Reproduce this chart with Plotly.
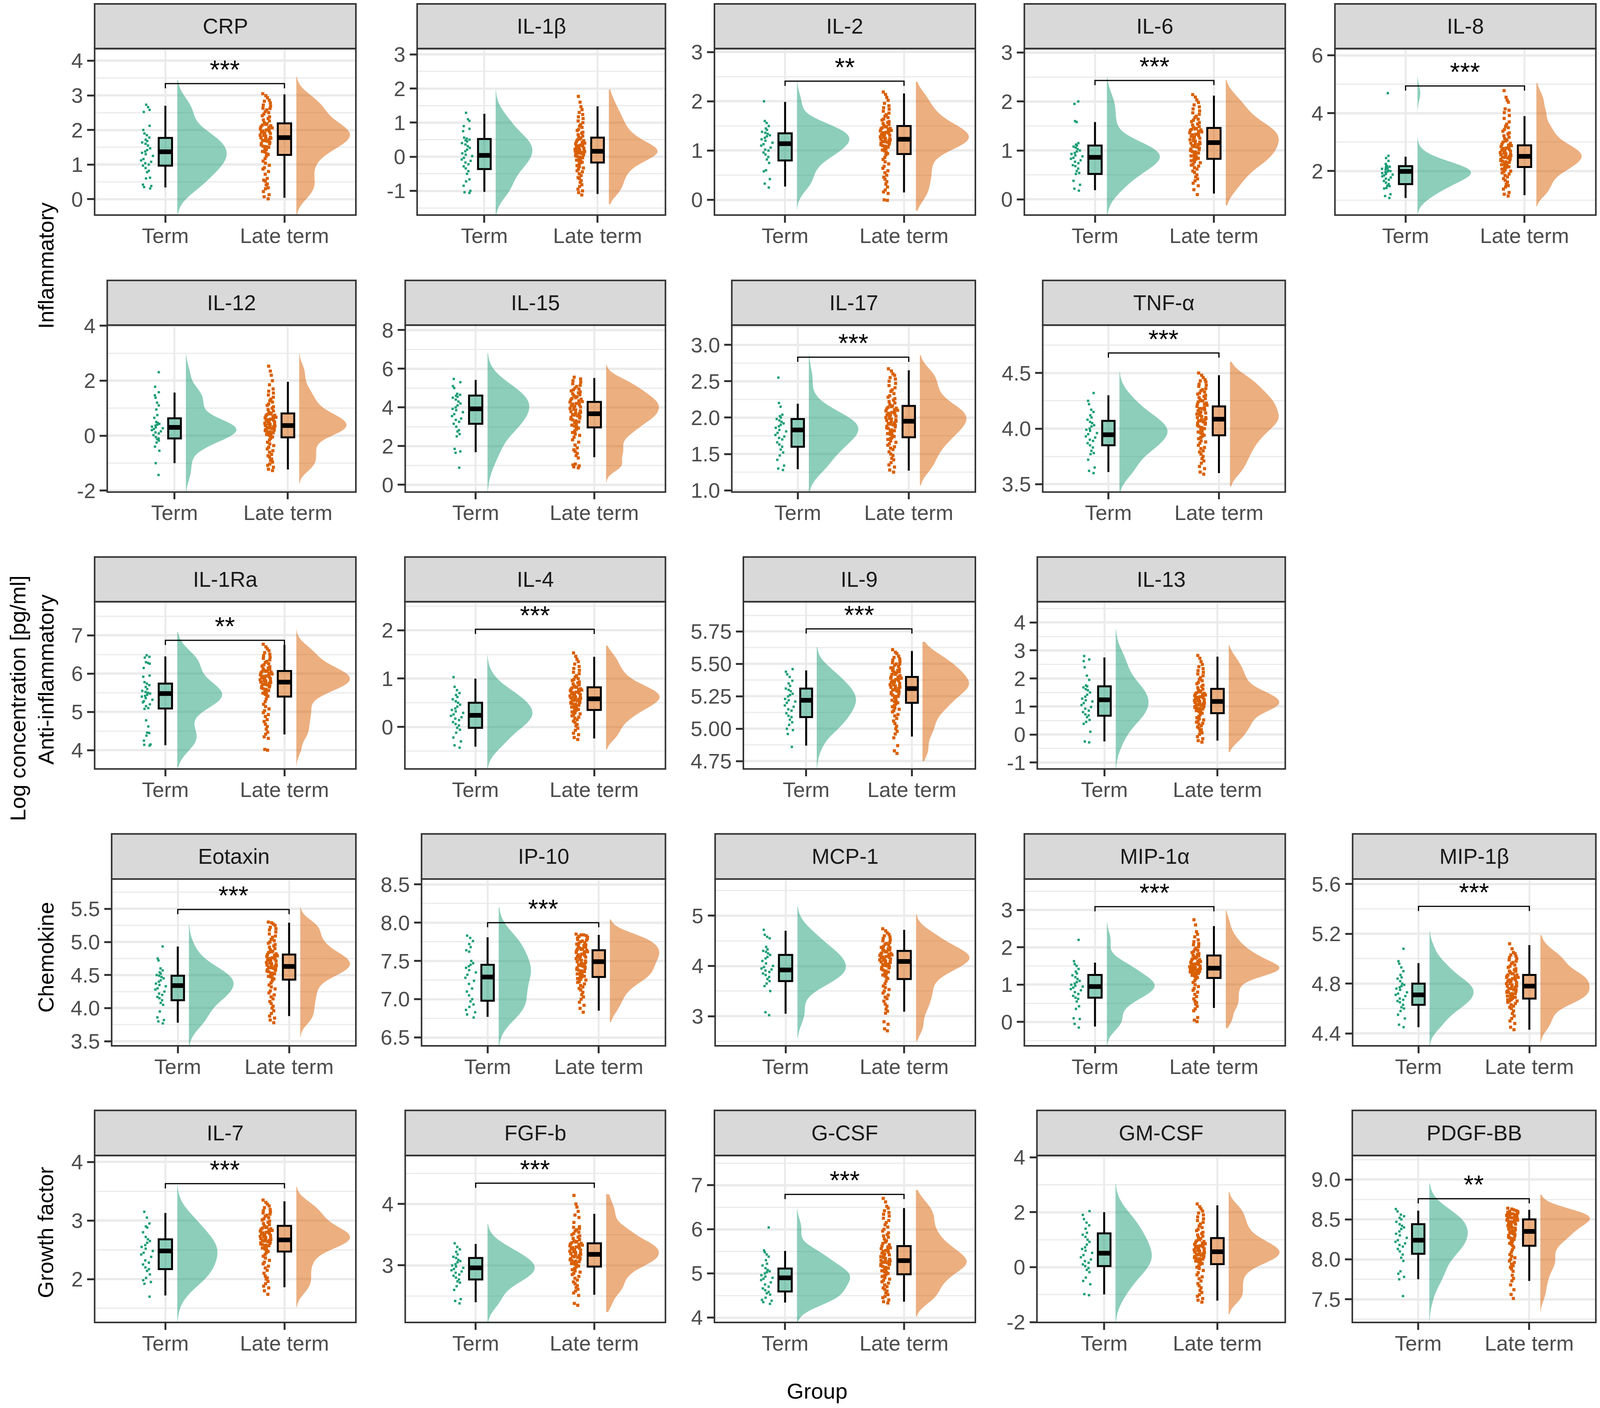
import plotly.graph_objects as go

W, H = 4685, 3604

panel_names = ["CRP", "IL-1β", "IL-2", "IL-6", "IL-8",
               "IL-12", "IL-15", "IL-17", "TNF-α",
               "IL-1Ra", "IL-4", "IL-9", "IL-13",
               "Eotaxin", "IP-10", "MCP-1", "MIP-1α", "MIP-1β",
               "IL-7", "FGF-b", "G-CSF", "GM-CSF", "PDGF-BB"]
group_labels = ["Term", "Late term"]
row_titles = ["Inflammatory", "Anti-inflammatory", "Chemokine", "Growth factor"]

y_tick_labels = [["0", "1", "2", "3", "4"], ["-1", "0", "1", "2", "3"], ["0", "1", "2", "3"], ["0", "1", "2", "3"], ["2", "4", "6"],
                 ["-2", "0", "2", "4"], ["0", "2", "4", "6", "8"], ["1.0", "1.5", "2.0", "2.5", "3.0"], ["3.5", "4.0", "4.5"],
                 ["4", "5", "6", "7"], ["0", "1", "2"], ["4.75", "5.00", "5.25", "5.50", "5.75"], ["-1", "0", "1", "2", "3", "4"],
                 ["3.5", "4.0", "4.5", "5.0", "5.5"], ["6.5", "7.0", "7.5", "8.0", "8.5"], ["3", "4", "5"], ["0", "1", "2", "3"], ["4.4", "4.8", "5.2", "5.6"],
                 ["2", "3", "4"], ["3", "4"], ["4", "5", "6", "7"], ["-2", "0", "2", "4"], ["7.5", "8.0", "8.5", "9.0"]]
y_lo = [-.46, -1.71, -.31, -.32, .48, -2.05, -.38, .977, 3.43, 3.51, -.87, 4.69, -1.23, 3.43, 6.39, 2.41, -.64, 4.30, 1.26, 2.07, 3.89, -2.01, 7.21]
y_hi = [4.35, 3.17, 3.07, 3.08, 6.23, 4.02, 8.25, 3.27, 4.93, 7.88, 2.59, 5.98, 4.74, 5.95, 8.57, 5.73, 3.83, 5.64, 4.11, 4.79, 7.67, 4.06, 9.30]

sig_y = [3.34, None, 2.41, 2.43, 4.94, None, None, 2.83, 4.68, 6.87, 2.02, 5.77, None, 5.49, 8.0, None, 3.09, 5.42, 3.63, 4.34, 6.79, None, 8.76]
sig_text = ["***", "", "**", "***", "***", "", "", "***", "***", "**", "***", "***", "", "***", "***", "", "***", "***", "***", "***", "***", "", "**"]

term_lo = [.34, -1.03, .27, .19, 1.07, -1.0, 1.68, 1.29, 3.61, 4.13, -.41, 4.87, -.25, 3.78, 6.77, 3.05, -.12, 4.45, 1.72, 2.40, 4.34, -.99, 7.75]
term_q1 = [.97, -.36, .80, .52, 1.55, -.10, 3.15, 1.60, 3.85, 5.09, -.02, 5.09, .67, 4.12, 6.98, 3.70, .65, 4.63, 2.17, 2.77, 4.59, .04, 8.07]
term_med = [1.37, .04, 1.14, .86, 1.99, .30, 3.92, 1.83, 3.945, 5.48, .24, 5.22, 1.24, 4.34, 7.29, 3.92, .95, 4.71, 2.48, 2.96, 4.90, .51, 8.24]
term_q3 = [1.77, .52, 1.35, 1.10, 2.17, .63, 4.61, 1.98, 4.07, 5.74, .50, 5.31, 1.72, 4.49, 7.45, 4.22, 1.26, 4.80, 2.68, 3.12, 5.11, 1.23, 8.44]
term_hi = [2.70, 1.26, 1.99, 1.58, 2.5, 1.57, 5.42, 2.19, 4.30, 6.45, 1.0, 5.45, 2.75, 4.93, 7.81, 4.70, 1.59, 4.965, 3.13, 3.35, 5.51, 2.0, 8.61]
term_tip_lo = [-.41, -1.75, -.20, -.35, .53, -2.1, -.5, .9, 3.38, 3.55, -.85, 4.68, -1.25, 3.42, 6.35, 2.57, -.65, 4.3, 1.2, 2.02, 3.87, -2.05, 7.2]
term_tip_hi = [3.45, 1.96, 2.40, 2.50, 5.26, 2.95, 6.80, 2.87, 4.51, 7.09, 1.48, 5.63, 3.75, 5.27, 8.20, 5.18, 2.67, 5.22, 3.60, 3.68, 6.46, 3.03, 8.95]
term_peak = [.415, .324, .44, .445, .45, .445, .352, .445, .435, .375, .38, .371, .29, .40, .29, .408, .40, .397, .337, .398, .446, .32, .346]
term_bw = [.33, .30, .18, .23, .25, .29, .60, .145, .086, .28, .20, .077, .43, .155, .17, .21, .21, .064, .20, .145, .19, .45, .145]

late_lo = [.04, -1.09, .15, .12, 1.17, -1.23, 1.42, 1.27, 3.60, 4.41, -.24, 4.94, -.22, 3.88, 6.85, 3.09, .375, 4.43, 1.86, 2.52, 4.36, -1.22, 7.73]
late_q1 = [1.28, -.17, .93, .83, 2.14, -.06, 2.96, 1.73, 3.94, 5.40, .35, 5.20, .76, 4.43, 7.29, 3.74, 1.18, 4.68, 2.47, 2.98, 4.98, .11, 8.17]
late_med = [1.78, .16, 1.23, 1.16, 2.51, .37, 3.67, 1.95, 4.085, 5.78, .58, 5.31, 1.18, 4.63, 7.49, 4.09, 1.44, 4.78, 2.67, 3.18, 5.29, .56, 8.35]
late_q3 = [2.19, .56, 1.50, 1.46, 2.89, .81, 4.28, 2.16, 4.20, 6.07, .82, 5.40, 1.63, 4.81, 7.64, 4.30, 1.78, 4.87, 2.91, 3.36, 5.62, 1.06, 8.50]
late_hi = [3.03, 1.48, 2.16, 2.12, 3.90, 1.96, 5.52, 2.65, 4.48, 6.75, 1.45, 5.60, 2.78, 5.29, 7.84, 4.72, 2.57, 5.11, 3.33, 3.84, 6.48, 2.25, 8.62]
late_tip_lo = [-.44, -1.39, -.22, -.12, .78, -1.74, .09, 1.07, 3.48, 3.57, -.47, 4.75, -.63, 3.56, 6.70, 2.51, -.16, 4.33, 1.52, 2.24, 4.03, -1.71, 7.34]
late_tip_hi = [3.54, 1.97, 2.40, 2.44, 5.05, 2.98, 6.21, 2.86, 4.60, 7.15, 1.68, 5.67, 3.18, 5.52, 8.04, 5.02, 2.98, 5.19, 3.58, 4.16, 6.89, 2.73, 8.81]
late_peak = [.45, .43, .445, .445, .38, .417, .444, .42, .44, .45, .45, .44, .446, .446, .444, .45, .45, .443, .45, .444, .426, .449, .445]
late_bw = [.24, .19, .15, .17, .19, .22, .30, .11, .067, .17, .12, .052, .22, .10, .09, .145, .155, .05, .115, .10, .165, .245, .085]

# individual samples
term_crp = [.31,.35,.38,.42,.6,.62,.78,.82,.9,.97,1.0,1.04,1.08,1.12,1.16,1.25,1.3,1.34,1.38,1.42,1.47,1.55,1.6,1.64,1.68,1.72,1.78,1.85,1.9,2.0,2.12,2.52,2.58,2.66,2.73]
late_crp = [.01,.07,.13,.22,.3,.33,.41,.44,.52,.55,.6,.72,.8,.87,.91,.98,1.04,1.1,1.17,1.24,1.29,1.31,1.36,1.38,1.43,1.45,1.5,1.52,1.53,1.57,1.6,1.61,1.64,1.67,1.69,1.7,1.73,1.74,1.76,1.77,1.79,1.82,1.84,1.85,1.88,1.9,1.91,1.94,1.96,1.97,2.0,2.01,2.03,2.06,2.08,2.09,2.12,2.14,2.16,2.18,2.21,2.26,2.29,2.33,2.38,2.41,2.46,2.5,2.53,2.58,2.62,2.63,2.69,2.72,2.78,2.83,2.86,2.93,2.99,3.05]
term_il1b = [-1.06,-1.04,-1.0,-.85,-.72,-.66,-.5,-.42,-.34,-.28,-.22,-.17,-.12,-.08,-.03,.02,.06,.1,.16,.21,.26,.31,.36,.4,.45,.48,.5,.53,.56,.75,.82,.9,1.05,1.1,1.29]
late_il1b = [-1.12,-1.05,-1.0,-.95,-.87,-.82,-.75,-.7,-.64,-.61,-.55,-.5,-.44,-.41,-.36,-.33,-.29,-.26,-.22,-.18,-.16,-.14,-.12,-.1,-.07,-.05,-.03,-.01,.01,.03,.05,.06,.08,.1,.11,.12,.13,.14,.15,.16,.17,.19,.2,.22,.24,.25,.27,.29,.31,.32,.34,.36,.38,.4,.42,.44,.47,.49,.52,.55,.58,.61,.65,.69,.72,.77,.8,.86,.9,.94,1.0,1.05,1.12,1.17,1.24,1.3,1.38,1.47,1.6,1.77]
term_il2 = [.25,.33,.42,.58,.6,.75,.82,.87,.92,.96,1.0,1.02,1.06,1.1,1.13,1.16,1.2,1.23,1.26,1.29,1.31,1.34,1.36,1.38,1.42,1.45,1.5,1.56,1.6,2.0]
late_il2 = [-.01,0.,.13,.16,.2,.26,.32,.37,.42,.46,.5,.55,.59,.64,.68,.73,.77,.82,.86,.91,.94,.96,.99,1.01,1.03,1.05,1.07,1.09,1.1,1.12,1.13,1.15,1.16,1.17,1.18,1.19,1.2,1.21,1.22,1.23,1.24,1.25,1.27,1.28,1.3,1.31,1.32,1.33,1.35,1.36,1.37,1.38,1.4,1.41,1.43,1.44,1.45,1.46,1.48,1.49,1.51,1.53,1.55,1.57,1.59,1.62,1.64,1.67,1.7,1.73,1.76,1.8,1.84,1.87,1.91,1.96,2.02,2.08,2.14,2.19]
term_il6 = [.18,.22,.3,.38,.52,.54,.58,.63,.68,.7,.74,.77,.8,.83,.85,.88,.9,.93,.95,.98,1.0,1.03,1.06,1.08,1.1,1.12,1.15,1.58,1.6,1.95,2.0]
late_il6 = [.1,.2,.28,.33,.38,.42,.46,.5,.55,.58,.62,.65,.68,.7,.72,.75,.77,.79,.81,.82,.84,.86,.87,.89,.91,.93,.95,.97,.98,1.0,1.02,1.03,1.05,1.07,1.08,1.1,1.12,1.13,1.14,1.15,1.17,1.19,1.2,1.22,1.24,1.25,1.27,1.29,1.3,1.32,1.33,1.35,1.36,1.38,1.39,1.41,1.42,1.43,1.44,1.45,1.47,1.49,1.52,1.54,1.57,1.59,1.62,1.64,1.67,1.7,1.74,1.77,1.81,1.85,1.89,1.93,1.98,2.03,2.09,2.14]
term_il8 = [1.07,1.14,1.2,1.4,1.42,1.48,1.5,1.55,1.6,1.66,1.7,1.74,1.78,1.82,1.85,1.88,1.9,1.93,1.96,1.98,2.0,2.02,2.05,2.08,2.1,2.12,2.15,2.17,2.2,2.25,2.35,2.45,2.53,4.69]
late_il8 = [1.14,1.2,1.26,1.38,1.45,1.5,1.55,1.62,1.68,1.74,1.8,1.85,1.9,1.94,1.98,2.0,2.04,2.07,2.1,2.13,2.15,2.18,2.2,2.22,2.25,2.27,2.3,2.32,2.34,2.37,2.39,2.41,2.43,2.45,2.47,2.49,2.5,2.52,2.54,2.56,2.58,2.6,2.62,2.64,2.66,2.69,2.71,2.73,2.75,2.78,2.8,2.83,2.85,2.88,2.9,2.93,2.96,3.0,3.04,3.08,3.12,3.17,3.22,3.28,3.32,3.38,3.44,3.5,3.55,3.62,3.7,3.82,3.92,4.02,4.1,4.15,4.38,4.45,4.55,4.78]
term_il12 = [-1.43,-1.0,-.55,-.4,-.25,-.18,-.13,-.1,-.05,.02,.08,.12,.16,.2,.24,.27,.3,.33,.37,.4,.43,.46,.5,.65,.75,.95,1.1,1.2,1.38,1.47,1.58,1.78,2.31]
late_il12 = [-1.27,-1.22,-1.15,-1.08,-1.03,-.96,-.9,-.85,-.78,-.73,-.68,-.6,-.55,-.48,-.42,-.36,-.3,-.24,-.16,-.1,-.05,-.02,.01,.04,.06,.09,.11,.14,.16,.18,.2,.22,.24,.26,.28,.3,.32,.34,.35,.37,.39,.41,.43,.45,.47,.5,.52,.54,.56,.58,.6,.62,.65,.67,.7,.72,.74,.77,.79,.82,.86,.9,.95,1.0,1.05,1.1,1.15,1.22,1.27,1.33,1.4,1.48,1.55,1.62,1.7,1.85,2.0,2.2,2.35,2.53]
term_il15 = [.88,1.65,1.72,1.85,2.5,2.62,2.75,2.82,3.0,3.15,3.25,3.35,3.42,3.55,3.65,3.75,3.85,3.92,4.0,4.1,4.2,4.3,4.4,4.5,4.55,4.6,4.65,4.7,5.0,5.1,5.3,5.47]
late_il15 = [.87,.92,.97,1.02,1.07,1.38,1.5,1.62,1.72,1.8,1.9,2.05,2.2,2.32,2.45,2.55,2.62,2.7,2.78,2.85,2.92,2.98,3.02,3.08,3.14,3.2,3.25,3.3,3.35,3.4,3.44,3.48,3.52,3.56,3.6,3.63,3.67,3.7,3.74,3.78,3.82,3.86,3.9,3.94,3.98,4.02,4.05,4.09,4.13,4.17,4.2,4.24,4.27,4.3,4.34,4.38,4.42,4.46,4.5,4.55,4.6,4.65,4.7,4.75,4.8,4.85,4.9,4.95,5.0,5.08,5.14,5.22,5.3,5.38,5.47,5.56]
term_il17 = [1.28,1.3,1.34,1.42,1.48,1.52,1.56,1.6,1.63,1.66,1.7,1.72,1.74,1.76,1.79,1.81,1.83,1.86,1.88,1.9,1.92,1.94,1.96,1.98,2.0,2.02,2.04,2.15,2.2,2.55]
late_il17 = [1.25,1.28,1.32,1.35,1.38,1.42,1.44,1.48,1.5,1.53,1.56,1.58,1.6,1.62,1.64,1.66,1.68,1.7,1.71,1.72,1.74,1.75,1.77,1.78,1.79,1.81,1.82,1.83,1.85,1.86,1.87,1.88,1.89,1.9,1.91,1.92,1.93,1.94,1.95,1.96,1.97,1.98,1.99,2.0,2.01,2.02,2.03,2.04,2.05,2.06,2.07,2.08,2.09,2.1,2.11,2.12,2.13,2.14,2.15,2.16,2.18,2.2,2.22,2.24,2.26,2.28,2.3,2.33,2.36,2.38,2.41,2.44,2.47,2.5,2.53,2.55,2.58,2.6,2.64,2.67]
term_tnf = [3.6,3.62,3.65,3.72,3.77,3.78,3.8,3.83,3.85,3.87,3.89,3.9,3.92,3.93,3.95,3.96,3.98,3.99,4.0,4.02,4.03,4.05,4.06,4.08,4.1,4.12,4.15,4.17,4.22,4.25,4.32]
late_tnf = [3.59,3.61,3.64,3.66,3.69,3.71,3.73,3.75,3.77,3.79,3.8,3.82,3.83,3.85,3.87,3.88,3.89,3.91,3.92,3.93,3.94,3.95,3.96,3.97,3.98,3.99,4.0,4.01,4.02,4.03,4.04,4.05,4.05,4.06,4.07,4.07,4.08,4.08,4.09,4.1,4.1,4.11,4.12,4.13,4.14,4.14,4.15,4.16,4.17,4.18,4.18,4.19,4.2,4.21,4.22,4.22,4.23,4.24,4.25,4.25,4.26,4.27,4.28,4.29,4.3,4.31,4.32,4.33,4.34,4.35,4.36,4.38,4.39,4.4,4.42,4.43,4.44,4.46,4.48,4.5]
term_il1ra = [4.12,4.14,4.15,4.25,4.38,4.45,4.46,4.62,4.78,5.08,5.1,5.15,5.2,5.25,5.28,5.32,5.36,5.4,5.42,5.45,5.48,5.5,5.52,5.55,5.6,5.65,5.7,5.74,5.78,5.92,5.95,6.15,6.26,6.28,6.3,6.42,6.44,6.48]
late_il1ra = [4.0,4.02,4.31,4.35,4.42,4.47,4.55,4.62,4.68,4.75,4.8,4.88,4.93,4.98,5.03,5.08,5.14,5.2,5.27,5.34,5.41,5.43,5.46,5.49,5.51,5.54,5.56,5.59,5.61,5.63,5.65,5.67,5.69,5.7,5.72,5.73,5.75,5.76,5.77,5.78,5.79,5.81,5.82,5.84,5.85,5.87,5.88,5.9,5.91,5.93,5.94,5.96,5.97,5.99,6.01,6.02,6.04,6.05,6.06,6.07,6.09,6.11,6.13,6.15,6.18,6.2,6.23,6.26,6.29,6.32,6.36,6.4,6.43,6.47,6.51,6.55,6.6,6.65,6.7,6.77]
term_il4 = [-.43,-.38,-.3,-.22,-.12,-.06,-.02,.03,.06,.1,.14,.17,.2,.23,.26,.29,.32,.35,.38,.42,.46,.5,.53,.57,.62,.66,.7,.76,.83,1.03]
late_il4 = [-.26,-.22,-.16,-.13,-.07,-.03,.02,.05,.09,.12,.15,.18,.2,.23,.25,.27,.29,.31,.33,.34,.36,.38,.39,.41,.42,.44,.45,.47,.48,.49,.5,.51,.52,.54,.55,.56,.57,.58,.59,.6,.61,.62,.63,.64,.66,.67,.68,.69,.7,.71,.72,.73,.75,.76,.77,.78,.79,.81,.82,.83,.85,.87,.89,.91,.93,.96,.98,1.0,1.03,1.06,1.1,1.13,1.17,1.21,1.25,1.3,1.35,1.4,1.46,1.53]
term_il9 = [4.86,4.96,4.99,5.0,5.03,5.05,5.07,5.09,5.1,5.12,5.14,5.15,5.17,5.18,5.2,5.21,5.22,5.23,5.25,5.26,5.27,5.29,5.3,5.31,5.33,5.35,5.37,5.4,5.42,5.44,5.46]
late_il9 = [4.81,4.83,4.87,4.93,4.96,4.98,5.0,5.02,5.04,5.06,5.08,5.1,5.11,5.13,5.14,5.15,5.16,5.17,5.18,5.19,5.2,5.21,5.21,5.22,5.23,5.24,5.25,5.25,5.26,5.27,5.27,5.28,5.29,5.29,5.3,5.3,5.31,5.31,5.32,5.32,5.33,5.33,5.34,5.34,5.35,5.35,5.36,5.36,5.37,5.37,5.38,5.38,5.39,5.39,5.4,5.4,5.41,5.42,5.42,5.43,5.44,5.44,5.45,5.45,5.46,5.47,5.47,5.48,5.49,5.5,5.5,5.51,5.52,5.53,5.54,5.55,5.56,5.58,5.59,5.61]
term_il13 = [-.28,-.25,.1,.38,.45,.52,.62,.68,.72,.8,.85,.92,.98,1.05,1.12,1.18,1.22,1.28,1.35,1.42,1.5,1.58,1.62,1.68,1.72,1.75,1.95,2.1,2.4,2.62,2.68,2.8]
late_il13 = [-.27,-.22,-.15,-.08,0.,.06,.12,.17,.22,.27,.31,.36,.4,.44,.48,.52,.56,.6,.65,.7,.76,.79,.82,.85,.87,.89,.91,.93,.95,.97,.99,1.0,1.02,1.04,1.06,1.07,1.09,1.1,1.12,1.14,1.16,1.18,1.2,1.22,1.23,1.25,1.27,1.29,1.31,1.33,1.35,1.37,1.39,1.41,1.43,1.45,1.47,1.49,1.52,1.55,1.58,1.62,1.67,1.71,1.76,1.81,1.86,1.92,1.97,2.03,2.1,2.16,2.22,2.28,2.35,2.42,2.5,2.6,2.72,2.82]
term_eot = [3.77,3.8,3.82,3.86,3.95,4.05,4.08,4.12,4.15,4.17,4.2,4.22,4.25,4.28,4.3,4.33,4.35,4.37,4.4,4.42,4.45,4.47,4.49,4.5,4.52,4.54,4.57,4.6,4.72,4.75,4.93]
late_eot = [3.78,3.82,3.85,3.88,3.92,3.96,4.0,4.03,4.07,4.1,4.14,4.17,4.2,4.23,4.26,4.29,4.32,4.35,4.38,4.41,4.44,4.45,4.47,4.48,4.5,4.51,4.52,4.53,4.55,4.56,4.57,4.58,4.59,4.6,4.61,4.62,4.63,4.63,4.64,4.65,4.66,4.67,4.68,4.69,4.7,4.71,4.72,4.73,4.74,4.75,4.76,4.77,4.78,4.79,4.8,4.81,4.82,4.84,4.85,4.86,4.88,4.9,4.92,4.94,4.96,4.98,5.0,5.02,5.04,5.07,5.09,5.12,5.15,5.18,5.2,5.22,5.25,5.27,5.29,5.3]
term_ip10 = [6.76,6.8,6.83,6.86,6.9,6.93,6.97,7.0,7.05,7.1,7.14,7.2,7.24,7.28,7.32,7.35,7.38,7.41,7.43,7.45,7.47,7.5,7.62,7.64,7.68,7.72,7.76,7.8,7.83]
late_ip10 = [6.83,6.88,6.92,6.96,7.0,7.03,7.06,7.09,7.12,7.14,7.16,7.18,7.2,7.22,7.23,7.25,7.26,7.27,7.28,7.29,7.3,7.31,7.32,7.33,7.34,7.35,7.36,7.37,7.38,7.39,7.4,7.41,7.42,7.43,7.44,7.45,7.46,7.47,7.48,7.49,7.5,7.51,7.52,7.53,7.54,7.55,7.56,7.56,7.57,7.58,7.59,7.6,7.61,7.62,7.62,7.63,7.64,7.65,7.65,7.66,7.67,7.68,7.69,7.7,7.71,7.72,7.73,7.74,7.75,7.76,7.77,7.78,7.79,7.8,7.81,7.82,7.83,7.84,7.84,7.85]
term_mcp = [3.02,3.08,3.5,3.6,3.65,3.7,3.74,3.78,3.82,3.85,3.88,3.91,3.93,3.95,3.98,4.0,4.05,4.1,4.15,4.18,4.22,4.25,4.28,4.3,4.33,4.38,4.55,4.58,4.62,4.72]
late_mcp = [2.71,2.75,2.84,2.89,3.06,3.1,3.14,3.2,3.24,3.3,3.35,3.38,3.42,3.46,3.5,3.53,3.57,3.6,3.65,3.7,3.75,3.77,3.8,3.82,3.84,3.86,3.88,3.9,3.92,3.94,3.96,3.97,3.99,4.0,4.01,4.03,4.04,4.05,4.07,4.08,4.09,4.1,4.11,4.12,4.13,4.14,4.15,4.16,4.17,4.18,4.19,4.2,4.21,4.22,4.23,4.24,4.25,4.26,4.28,4.29,4.31,4.32,4.33,4.34,4.36,4.37,4.39,4.41,4.43,4.45,4.47,4.5,4.52,4.55,4.58,4.6,4.63,4.66,4.7,4.74]
term_mip1a = [-.15,-.05,.08,.1,.35,.42,.55,.62,.65,.7,.75,.8,.85,.88,.92,.95,.97,1.0,1.03,1.07,1.1,1.15,1.2,1.25,1.3,1.35,1.42,1.5,1.55,1.63,2.2]
late_mip1a = [.01,.05,.12,.3,.35,.42,.48,.52,.56,.62,.68,.74,.8,.85,.9,.95,1.0,1.06,1.11,1.16,1.19,1.21,1.23,1.25,1.27,1.28,1.3,1.31,1.33,1.34,1.35,1.36,1.37,1.38,1.39,1.4,1.41,1.42,1.43,1.44,1.45,1.46,1.47,1.48,1.49,1.5,1.51,1.53,1.54,1.55,1.56,1.58,1.6,1.62,1.63,1.65,1.67,1.69,1.71,1.73,1.75,1.77,1.79,1.81,1.83,1.86,1.89,1.92,1.95,1.98,2.02,2.07,2.1,2.15,2.2,2.28,2.35,2.42,2.6,2.74]
term_mip1b = [4.45,4.47,4.52,4.55,4.58,4.6,4.61,4.63,4.65,4.66,4.67,4.68,4.7,4.71,4.72,4.73,4.75,4.76,4.77,4.78,4.79,4.8,4.82,4.84,4.85,4.87,4.9,4.93,4.96,4.98,5.08]
late_mip1b = [4.43,4.45,4.48,4.5,4.52,4.54,4.56,4.58,4.6,4.61,4.62,4.63,4.64,4.65,4.66,4.66,4.67,4.67,4.68,4.68,4.69,4.69,4.7,4.7,4.71,4.71,4.72,4.72,4.73,4.73,4.74,4.74,4.75,4.75,4.76,4.76,4.77,4.77,4.78,4.78,4.79,4.79,4.8,4.8,4.81,4.81,4.82,4.82,4.83,4.83,4.84,4.84,4.85,4.85,4.86,4.86,4.87,4.87,4.88,4.88,4.89,4.9,4.9,4.91,4.92,4.93,4.94,4.95,4.96,4.97,4.98,4.99,5.0,5.01,5.02,5.03,5.04,5.05,5.08,5.12]
term_il7 = [1.7,1.92,1.95,1.98,2.02,2.08,2.14,2.17,2.2,2.25,2.28,2.32,2.38,2.42,2.45,2.48,2.52,2.55,2.58,2.62,2.65,2.68,2.72,2.8,2.88,2.9,2.95,3.05,3.15]
late_il7 = [1.74,1.8,1.85,1.88,1.92,1.96,2.0,2.02,2.05,2.1,2.15,2.19,2.22,2.26,2.29,2.32,2.36,2.39,2.42,2.45,2.47,2.49,2.51,2.53,2.54,2.56,2.57,2.58,2.59,2.6,2.61,2.62,2.63,2.64,2.65,2.66,2.66,2.67,2.68,2.69,2.7,2.71,2.72,2.73,2.74,2.75,2.76,2.77,2.78,2.79,2.8,2.81,2.82,2.83,2.84,2.85,2.86,2.87,2.88,2.89,2.91,2.93,2.95,2.97,2.99,3.01,3.03,3.05,3.07,3.09,3.11,3.13,3.15,3.17,3.19,3.22,3.25,3.28,3.31,3.35]
term_fgf = [2.38,2.42,2.45,2.6,2.66,2.72,2.74,2.77,2.8,2.83,2.85,2.88,2.9,2.92,2.94,2.96,2.98,3.0,3.02,3.05,3.07,3.09,3.12,3.14,3.18,3.22,3.26,3.3,3.36]
late_fgf = [2.35,2.38,2.51,2.55,2.58,2.61,2.64,2.67,2.7,2.73,2.76,2.79,2.82,2.85,2.87,2.89,2.91,2.93,2.95,2.97,2.99,3.0,3.02,3.03,3.04,3.05,3.06,3.07,3.08,3.09,3.1,3.11,3.12,3.13,3.14,3.15,3.16,3.17,3.18,3.19,3.2,3.21,3.22,3.23,3.24,3.25,3.26,3.27,3.28,3.29,3.3,3.31,3.32,3.33,3.34,3.35,3.36,3.37,3.38,3.39,3.4,3.42,3.44,3.46,3.48,3.5,3.52,3.54,3.56,3.58,3.6,3.62,3.63,3.7,3.78,3.82,3.88,3.95,4.0,4.14]
term_gcsf = [4.31,4.35,4.38,4.4,4.45,4.52,4.55,4.58,4.62,4.66,4.7,4.75,4.8,4.85,4.88,4.9,4.93,4.96,5.0,5.03,5.05,5.08,5.12,5.18,5.22,5.3,5.38,5.43,5.48,5.52,6.04]
late_gcsf = [4.33,4.36,4.4,4.45,4.48,4.52,4.56,4.6,4.64,4.67,4.7,4.74,4.78,4.81,4.84,4.87,4.9,4.93,4.95,4.97,5.0,5.02,5.04,5.06,5.08,5.1,5.12,5.14,5.16,5.18,5.2,5.21,5.22,5.24,5.25,5.26,5.27,5.28,5.29,5.3,5.32,5.34,5.36,5.38,5.4,5.42,5.44,5.46,5.48,5.5,5.52,5.54,5.56,5.58,5.6,5.62,5.65,5.68,5.71,5.74,5.78,5.82,5.85,5.88,5.92,5.96,6.0,6.05,6.1,6.15,6.2,6.25,6.3,6.34,6.38,6.42,6.48,6.52,6.62,6.7]
term_gm = [-1.02,-.98,-.62,-.5,-.38,-.18,-.1,-.03,.04,.1,.16,.22,.28,.36,.44,.52,.6,.66,.72,.82,.92,1.0,1.1,1.18,1.25,1.4,1.52,1.62,1.75,1.9,2.04]
late_gm = [-1.27,-1.2,-1.14,-1.06,-1.0,-.92,-.85,-.75,-.68,-.6,-.5,-.42,-.35,-.28,-.2,-.12,-.05,.0,.05,.1,.13,.16,.19,.22,.24,.27,.29,.31,.33,.35,.37,.39,.41,.43,.45,.47,.49,.51,.53,.55,.57,.59,.61,.63,.65,.67,.69,.72,.74,.76,.78,.8,.83,.85,.88,.9,.93,.96,1.0,1.04,1.08,1.13,1.17,1.22,1.27,1.33,1.38,1.44,1.5,1.57,1.63,1.7,1.76,1.83,1.9,1.97,2.04,2.12,2.2,2.3]
term_pdgf = [7.54,7.75,7.78,7.82,7.85,7.98,8.02,8.06,8.1,8.13,8.16,8.18,8.2,8.22,8.24,8.27,8.3,8.32,8.35,8.38,8.4,8.42,8.44,8.47,8.5,8.52,8.54,8.56,8.6,8.63]
late_pdgf = [7.51,7.56,7.62,7.68,7.73,7.76,7.8,7.85,7.88,7.9,7.92,7.94,7.96,7.98,8.0,8.02,8.04,8.06,8.09,8.12,8.15,8.17,8.19,8.2,8.22,8.23,8.25,8.26,8.27,8.28,8.29,8.3,8.31,8.32,8.33,8.34,8.35,8.36,8.37,8.38,8.39,8.4,8.41,8.42,8.43,8.44,8.44,8.45,8.46,8.47,8.47,8.48,8.49,8.49,8.5,8.5,8.51,8.51,8.52,8.52,8.53,8.53,8.54,8.54,8.55,8.55,8.56,8.56,8.57,8.57,8.58,8.58,8.59,8.59,8.6,8.6,8.61,8.62,8.63,8.64]

term_points = [term_crp, term_il1b, term_il2, term_il6, term_il8, term_il12, term_il15, term_il17, term_tnf, term_il1ra, term_il4, term_il9,
               term_il13, term_eot, term_ip10, term_mcp, term_mip1a, term_mip1b, term_il7, term_fgf, term_gcsf, term_gm, term_pdgf]
late_points = [late_crp, late_il1b, late_il2, late_il6, late_il8, late_il12, late_il15, late_il17, late_tnf, late_il1ra, late_il4, late_il9,
               late_il13, late_eot, late_ip10, late_mcp, late_mip1a, late_mip1b, late_il7, late_fgf, late_gcsf, late_gm, late_pdgf]

# ----------------------------------------------------------------------
# Page layout, in pixels of the reference; turned into page fractions below
# ----------------------------------------------------------------------
panel_left = [269, 1217, 2091, 3002, 3915,
              306, 1182, 2142, 3056,
              269, 1181, 2176, 3040,
              319, 1230, 2093, 3002, 3967,
              269, 1182, 2091, 3039, 3966]
panel_right = [1037, 1947, 2858, 3769, 4682,
               1037, 1947, 2858, 3769,
               1037, 1947, 2858, 3769,
               1037, 1947, 2858, 3769, 4682,
               1037, 1947, 2858, 3769, 4682]
panel_row = [0] * 5 + [1] * 4 + [2] * 4 + [3] * 5 + [4] * 5
row_strip = [2, 713, 1424, 2136, 2847]
row_top = [117, 828, 1539, 2252, 2963]
row_bottom = [545, 1257, 1969, 2681, 3392]

INK = "#333333"
GRID = "#EBEBEB"
FONT = "Liberation Sans"
X_RANGE = [0.406, 2.6]


def add_group(fig, i, pos, vals, stats, tips, peak, bw, color, fill, size):
    ax = dict(xaxis="x" + ("" if i == 0 else str(i + 1)), yaxis="y" + ("" if i == 0 else str(i + 1)))
    lo, q1, med, q3, hi = stats

    # dots, jittered by plotly
    fig.add_trace(go.Box(y=vals, x0=pos - 0.152, width=0.11, boxpoints="all", jitter=1, pointpos=0,
                         fillcolor="rgba(0,0,0,0)", line=dict(width=0, color="rgba(0,0,0,0)"),
                         marker=dict(color=color, size=size, symbol="square"),
                         showlegend=False, hoverinfo="skip", **ax))

    # half violin, plotly's width is the full two-sided one
    fig.add_trace(go.Violin(y=vals, x0=pos + 0.1, side="positive", width=2 * peak, scalemode="width",
                            spanmode="manual", span=list(tips), bandwidth=bw,
                            points=False, fillcolor=fill, line=dict(width=0, color="rgba(0,0,0,0)"),
                            showlegend=False, hoverinfo="skip", **ax))

    # box from the values
    fig.add_trace(go.Box(x=[pos], q1=[q1], median=[med], q3=[q3], lowerfence=[lo], upperfence=[hi],
                         width=0.112, whiskerwidth=0, boxpoints=False, fillcolor=fill,
                         line=dict(color="black", width=5), showlegend=False, hoverinfo="skip", **ax))
    fig.add_trace(go.Scatter(x=[pos - 0.056, pos + 0.056], y=[med, med], mode="lines",
                             line=dict(color="black", width=12), showlegend=False, hoverinfo="skip", **ax))


fig = go.Figure()
shapes = []
annotations = []
layout_axes = {}

for i, name in enumerate(panel_names):
    suffix = "" if i == 0 else str(i + 1)
    r = panel_row[i]
    left, right = panel_left[i], panel_right[i]
    top, bottom = row_top[r], row_bottom[r]

    add_group(fig, i, 1, term_points[i], (term_lo[i], term_q1[i], term_med[i], term_q3[i], term_hi[i]),
              (term_tip_lo[i], term_tip_hi[i]), term_peak[i], term_bw[i], "#1B9E77", "rgba(27,158,119,0.5)", 6)
    add_group(fig, i, 2, late_points[i], (late_lo[i], late_q1[i], late_med[i], late_q3[i], late_hi[i]),
              (late_tip_lo[i], late_tip_hi[i]), late_peak[i], late_bw[i], "#D95F02", "rgba(217,95,2,0.5)", 8)

    # significance bracket
    if sig_y[i] is not None:
        tip = 12 / (bottom - top) * (y_hi[i] - y_lo[i])
        fig.add_trace(go.Scatter(x=[1, 1, 2, 2], y=[sig_y[i] - tip, sig_y[i], sig_y[i], sig_y[i] - tip],
                                 mode="lines", line=dict(color="black", width=3), showlegend=False,
                                 hoverinfo="skip", xaxis="x" + suffix, yaxis="y" + suffix))
        annotations.append(dict(text=sig_text[i], x=1.5, y=sig_y[i], xref="x" + suffix, yref="y" + suffix,
                                showarrow=False, yanchor="bottom", yshift=-3,
                                font=dict(family=FONT, size=66, color="black")))

    labels = y_tick_labels[i]
    ticks = [float(s) for s in labels]
    step = ticks[1] - ticks[0]
    minor = []
    t = ticks[0] - step / 2
    while t > y_lo[i]:
        t -= step
    while t < y_hi[i]:
        if t > y_lo[i]:
            minor.append(t)
        t += step

    layout_axes["xaxis" + suffix] = dict(
        domain=[left / W, right / W], range=X_RANGE, anchor="y" + suffix, automargin=False,
        tickmode="array", tickvals=[1, 2], ticktext=group_labels, ticks="outside", ticklen=18, tickwidth=5,
        ticklabelstandoff=-12,
        tickcolor=INK, tickfont=dict(family=FONT, size=54, color="#4D4D4D"), showgrid=True, gridcolor=GRID,
        gridwidth=4.5, zeroline=False, showline=False, fixedrange=True)
    layout_axes["yaxis" + suffix] = dict(
        domain=[1 - bottom / H, 1 - top / H], range=[y_lo[i], y_hi[i]], anchor="x" + suffix, automargin=False,
        tickmode="array", tickvals=ticks, ticktext=labels, ticks="outside", ticklen=18, tickwidth=5,
        tickcolor=INK, tickfont=dict(family=FONT, size=54, color="#4D4D4D"), showgrid=True, gridcolor=GRID,
        gridwidth=5.5, zeroline=False, showline=False, fixedrange=True,
        minor=dict(tickmode="array", tickvals=minor, showgrid=True, gridcolor=GRID, gridwidth=3, ticks=""))

    # facet strip and panel border
    shapes.append(dict(type="rect", xref="paper", yref="paper", x0=left / W, x1=right / W,
                       y0=1 - top / H, y1=1 - row_strip[r] / H, fillcolor="#D9D9D9",
                       line=dict(color=INK, width=4), layer="above"))
    shapes.append(dict(type="rect", xref="paper", yref="paper", x0=left / W, x1=right / W,
                       y0=1 - bottom / H, y1=1 - top / H, fillcolor="rgba(0,0,0,0)",
                       line=dict(color=INK, width=4), layer="above"))
    annotations.append(dict(text=name, x=(left + right) / 2 / W, y=1 - (row_strip[r] + top) / 2 / H,
                            xref="paper", yref="paper", showarrow=False, xanchor="center", yanchor="middle",
                            font=dict(family=FONT, size=55, color="#1A1A1A")))

# outer titles, anchored on their centres because plotly's auto anchor shifts them near the edges
title_font = dict(family=FONT, size=56, color="black")
annotations.append(dict(text="Group", x=2393 / W, y=1 - 3568 / H, xref="paper", yref="paper", showarrow=False,
                        xanchor="center", yanchor="middle", font=title_font))
annotations.append(dict(text="Log concentration [pg/ml]", x=42 / W, y=1 - 1787 / H, xref="paper", yref="paper",
                        showarrow=False, textangle=-90, xanchor="center", yanchor="middle", font=title_font))
for title, cy in zip(row_titles, [675, 1739, 2453, 3161]):
    annotations.append(dict(text=title, x=125 / W, y=1 - cy / H, xref="paper", yref="paper", showarrow=False,
                            textangle=-90, xanchor="center", yanchor="middle", font=title_font))

# no fixed size: the figure fills whatever the browser window really is
fig.update_layout(margin=dict(l=0, r=0, t=0, b=0), autosize=True,
                  paper_bgcolor="white", plot_bgcolor="white", boxmode="overlay", violinmode="overlay",
                  shapes=shapes, annotations=annotations, showlegend=False, **layout_axes)

fig.write_html("out.html")
